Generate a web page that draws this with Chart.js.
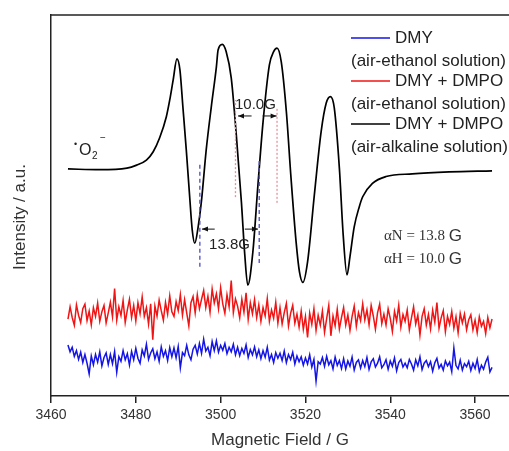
<!DOCTYPE html>
<html>
<head>
<meta charset="utf-8">
<script src="https://cdn.jsdelivr.net/npm/chart.js@4/dist/chart.umd.min.js"></script>
<style>
  html, body { margin: 0; padding: 0; background: #fff; }
  #wrap { width: 509px; height: 451px; position: relative; }
</style>
</head>
<body>
<div id="wrap"><canvas id="epr"></canvas></div>
<script>
// x ticks
const tickValues = [3460, 3480, 3500, 3520, 3540, 3560];

// black: DMY + DMPO (air-alkaline solution), read point by point
const blackField = [3464.0, 3471.5, 3477.9, 3480.2, 3482.5, 3484.1, 3485.6, 3487.2, 3488.0, 3488.8, 3489.7, 3490.4,
  3491.1, 3491.9, 3492.7, 3493.3, 3493.9, 3494.7, 3495.5, 3496.6, 3497.8, 3499.0, 3499.4, 3500.4, 3501.3, 3502.5,
  3503.7, 3504.9, 3505.7, 3506.4, 3507.6, 3508.8, 3510.0, 3511.5, 3512.5, 3513.3, 3514.3, 3515.5, 3516.6, 3517.8,
  3518.6, 3519.4, 3520.5, 3522.1, 3523.7, 3524.9, 3525.9, 3526.8, 3528.0, 3528.9, 3529.8, 3530.5, 3531.5, 3532.7,
  3533.5, 3535.8, 3539.0, 3545.2, 3553.9, 3564.0];
const blackIntensity = [59.6, 59.4, 59.8, 60.6, 61.9, 64.1, 67.7, 73.3, 77.7, 82.9, 88.5, 85.6,
  75.9, 64.6, 52.3, 43.6, 40.1, 44.4, 51.4, 64.6, 75.9, 86.4, 90.8, 92.3, 90.4, 83.5,
  68.5, 50.9, 37.0, 29.1, 37.8, 55.4, 71.9, 86.9, 90.4, 91.3, 87.7, 74.6, 57.2, 40.4,
  32.5, 29.8, 35.2, 52.8, 69.4, 76.9, 78.6, 75.6, 59.8, 42.3, 31.8, 36.6, 44.4, 49.7,
  52.3, 55.8, 57.6, 58.3, 58.8, 59.1];

// noise traces, sampled every 0.5 G from 3464 G
const noiseStart = 3464;
const noiseStep = 0.5;
const redIntensity = [
  20.2, 23.4, 20.6, 18.6, 23.9, 21.2, 19.3, 22.9, 24.1, 19.8,
  22.3, 18.7, 23.2, 20.9, 24.4, 19.6, 22.1, 23.8, 19.2, 21.8,
  24.6, 20.8, 28.2, 19.9, 23.4, 21.1, 25.1, 19.3, 22.6, 25.4,
  20.6, 23.8, 19.7, 24.5, 21.6, 26.0, 20.9, 23.2, 18.9, 24.2,
  14.8, 23.6, 21.0, 25.2, 22.4, 19.9, 24.6, 21.5, 26.3, 22.1,
  20.9, 24.8, 22.4, 26.6, 21.2, 25.3, 21.8, 18.4, 24.5, 26.1,
  21.8, 26.6, 22.9, 25.4, 27.7, 23.2, 26.2, 22.0, 28.1, 24.4,
  26.8, 22.9, 28.4, 24.2, 21.7, 26.6, 23.4, 30.3, 21.9, 25.5,
  23.6, 20.5, 25.4, 22.0, 27.1, 20.1, 24.5, 21.6, 25.3, 20.6,
  23.9, 19.6, 23.2, 21.0, 25.6, 19.6, 22.6, 20.4, 24.6, 19.1,
  23.2, 18.9, 21.9, 24.3, 18.4, 21.7, 23.8, 19.1, 21.5, 18.1,
  22.3, 17.5, 20.9, 15.4, 21.8, 18.8, 22.9, 17.2, 21.2, 18.6,
  22.3, 16.7, 20.3, 23.8, 15.8, 21.0, 18.4, 22.8, 17.6, 20.6,
  23.2, 18.6, 21.3, 17.2, 20.9, 23.6, 18.3, 21.9, 19.8, 24.2,
  20.0, 22.6, 18.7, 23.8, 21.0, 17.5, 21.8, 24.1, 19.0, 21.5,
  18.6, 22.9, 20.4, 16.9, 22.2, 19.7, 23.8, 18.1, 21.4, 19.6,
  22.6, 17.4, 20.5, 23.4, 18.9, 21.2, 16.0, 20.9, 22.9, 18.6,
  21.4, 17.6, 22.5, 19.4, 24.5, 17.8, 20.5, 22.4, 16.9, 20.9,
  18.8, 22.2, 17.8, 20.8, 16.6, 21.7, 19.2, 21.5, 17.4, 20.0,
  21.3, 17.4, 19.9, 16.6, 20.8, 18.3, 19.6, 16.4, 20.6, 17.9, 20.2];
const blueIntensity = [
  13.4, 11.6, 12.8, 10.4, 11.9, 9.6, 11.5, 8.8, 10.9, 8.6,
  5.8, 10.5, 8.2, 10.9, 8.9, 11.6, 7.9, 10.1, 11.3, 8.3,
  10.9, 8.5, 11.7, 6.2, 10.3, 9.1, 11.9, 9.5, 11.1, 8.1,
  11.7, 9.5, 12.5, 9.9, 8.6, 12.1, 10.5, 13.6, 9.6, 11.3,
  12.4, 9.8, 11.6, 9.1, 12.9, 10.4, 11.9, 9.3, 12.7, 10.3,
  12.6, 10.0, 13.0, 7.4, 11.4, 10.6, 13.3, 10.8, 9.5, 12.3,
  13.3, 11.0, 13.8, 11.2, 14.9, 11.8, 12.8, 10.6, 14.3, 11.9,
  14.5, 11.5, 13.3, 12.0, 13.8, 11.1, 12.8, 11.6, 13.6, 10.8,
  12.8, 10.6, 12.5, 11.2, 13.4, 10.1, 12.2, 10.8, 12.9, 10.3,
  12.1, 9.8, 11.9, 10.2, 12.8, 9.4, 10.9, 8.8, 11.4, 9.9,
  11.2, 9.3, 11.8, 8.8, 10.9, 9.6, 11.5, 8.4, 10.5, 9.0,
  10.3, 8.1, 10.0, 8.4, 10.8, 7.6, 9.6, 3.9, 9.0, 8.4,
  10.1, 7.8, 10.4, 8.2, 9.3, 7.1, 10.2, 8.0, 9.3, 7.2,
  9.8, 7.1, 9.2, 7.8, 10.2, 6.8, 8.8, 9.5, 7.3, 9.3,
  7.7, 10.1, 7.0, 9.0, 9.8, 7.6, 8.6, 10.3, 7.4, 8.2,
  9.5, 7.0, 9.2, 7.8, 10.0, 6.6, 8.8, 9.6, 7.6, 8.6,
  7.4, 9.6, 8.4, 6.8, 9.5, 7.9, 10.3, 6.9, 8.6, 9.3,
  7.7, 9.0, 6.5, 8.7, 9.9, 7.3, 8.3, 6.8, 9.2, 7.9,
  8.9, 6.4, 12.6, 8.0, 7.1, 9.4, 6.8, 8.5, 7.7, 9.1,
  6.7, 8.6, 7.2, 9.6, 6.4, 8.1, 7.0, 8.9, 10.2, 6.3, 7.5];

const seriesLabels = ['DMY', 'DMY + DMPO', 'DMY + DMPO'];
const seriesNotes = ['(air-ethanol solution)', '(air-ethanol solution)', '(air-alkaline solution)'];
const seriesColors = ['#1414e6', '#f01414', '#000000'];

const SANS = '"Liberation Sans", Arial, sans-serif';
const SERIF = '"Liberation Serif", "Times New Roman", serif';

function noisePoints(values) {
    return values.map((v, i) => ({ x: noiseStart + i * noiseStep, y: v }));
}

// guides for the splitting constants (data units)
const guides = [
    { x: 3495.1, y0: 33.9, y1: 61.4, color: '#4a4ac8', dash: [4, 3] },
    { x: 3509.1, y0: 34.9, y1: 62.5, color: '#4a4ac8', dash: [4, 3] },
    { x: 3503.5, y0: 52.2, y1: 77.7, color: '#e8909c', dash: [2, 2] },
    { x: 3513.3, y0: 50.7, y1: 75.9, color: '#e8909c', dash: [2, 2] }
];
const arrows = [
    { from: 3498.6, to: 3495.6, y: 43.8 },
    { from: 3505.7, to: 3508.8, y: 43.8 },
    { from: 3507.3, to: 3504.1, y: 73.5 },
    { from: 3509.9, to: 3513.2, y: 73.5 }
];
const gapLabels = [
    { text: '13.8G', x: 3502.1, y: 39.6 },
    { text: '10.0G', x: 3508.2, y: 76.4 }
];

const decorPlugin = {
    id: 'decor',
    afterDatasetsDraw(chart) {
        const ctx = chart.ctx;
        const xs = chart.scales.x, ys = chart.scales.y;
        const area = chart.chartArea;
        ctx.save();

        // top frame line
        ctx.strokeStyle = '#222';
        ctx.lineWidth = 1.5;
        ctx.beginPath();
        ctx.moveTo(area.left, area.top);
        ctx.lineTo(area.right, area.top);
        ctx.stroke();

        // dashed guides
        guides.forEach(g => {
            ctx.strokeStyle = g.color;
            ctx.lineWidth = 1.3;
            ctx.setLineDash(g.dash);
            ctx.beginPath();
            ctx.moveTo(xs.getPixelForValue(g.x), ys.getPixelForValue(g.y0));
            ctx.lineTo(xs.getPixelForValue(g.x), ys.getPixelForValue(g.y1));
            ctx.stroke();
        });
        ctx.setLineDash([]);

        // arrows
        ctx.strokeStyle = '#111';
        ctx.fillStyle = '#111';
        ctx.lineWidth = 1;
        arrows.forEach(a => {
            const x0 = xs.getPixelForValue(a.from), x1 = xs.getPixelForValue(a.to);
            const y = ys.getPixelForValue(a.y);
            const d = Math.sign(x1 - x0);
            ctx.beginPath();
            ctx.moveTo(x0, y);
            ctx.lineTo(x1, y);
            ctx.stroke();
            ctx.beginPath();
            ctx.moveTo(x1, y);
            ctx.lineTo(x1 - d * 6, y - 2.5);
            ctx.lineTo(x1 - d * 6, y + 2.5);
            ctx.closePath();
            ctx.fill();
        });

        ctx.font = '15px ' + SANS;
        ctx.fillStyle = '#222';
        ctx.textAlign = 'center';
        ctx.textBaseline = 'middle';
        gapLabels.forEach(l => {
            ctx.fillText(l.text, xs.getPixelForValue(l.x), ys.getPixelForValue(l.y));
        });

        // radical label
        ctx.textAlign = 'left';
        ctx.textBaseline = 'alphabetic';
        ctx.font = '9px ' + SANS;
        ctx.fillText('\u2022', 74, 147);
        ctx.font = '16px ' + SANS;
        ctx.fillText('O', 79, 155);
        ctx.font = '10px ' + SANS;
        ctx.fillText('2', 92, 159);
        ctx.fillText('\u2212', 100, 141);

        // coupling constants
        ctx.textBaseline = 'middle';
        [['\u03b1N = 13.8 ', 236], ['\u03b1H = 10.0 ', 259]].forEach(([t, y]) => {
            ctx.font = '15px ' + SERIF;
            ctx.fillStyle = '#333';
            ctx.fillText(t, 384, y);
            const w = ctx.measureText(t).width;
            ctx.font = '17px ' + SANS;
            ctx.fillText('G', 384 + w, y);
        });

        // legend
        ctx.font = '17px ' + SANS;
        ctx.fillStyle = '#222';
        seriesLabels.forEach((lab, i) => {
            const y = 38 + i * 43;
            ctx.strokeStyle = seriesColors[i];
            ctx.lineWidth = 1.5;
            ctx.beginPath();
            ctx.moveTo(351, y);
            ctx.lineTo(390, y);
            ctx.stroke();
            ctx.fillText(lab, 395, y);
            ctx.fillText(seriesNotes[i], 351, y + 23);
        });

        // y axis title
        ctx.translate(20, 217);
        ctx.rotate(-Math.PI / 2);
        ctx.textAlign = 'center';
        ctx.font = '17px ' + SANS;
        ctx.fillStyle = '#333';
        ctx.fillText('Intensity / a.u.', 0, 0);
        ctx.restore();
    }
};

new Chart(document.getElementById('epr'), {
    type: 'line',
    data: {
        datasets: [{
            label: seriesLabels[0],
            data: noisePoints(blueIntensity),
            borderColor: seriesColors[0],
            borderWidth: 1.5,
            pointRadius: 0,
            tension: 0
        }, {
            label: seriesLabels[1],
            data: noisePoints(redIntensity),
            borderColor: seriesColors[1],
            borderWidth: 1.5,
            pointRadius: 0,
            tension: 0
        }, {
            label: seriesLabels[2],
            data: blackField.map((f, i) => ({ x: f, y: blackIntensity[i] })),
            borderColor: seriesColors[2],
            borderWidth: 1.7,
            pointRadius: 0,
            cubicInterpolationMode: 'monotone'
        }]
    },
    options: {
        responsive: true,
        maintainAspectRatio: false,
        animation: false,
        layout: { padding: { top: 15, right: 0, bottom: 0, left: 0 } },
        plugins: { legend: { display: false }, tooltip: { enabled: false } },
        scales: {
            x: {
                type: 'linear',
                min: 3460,
                max: 3568,
                afterBuildTicks: s => { s.ticks = tickValues.map(v => ({ value: v })); },
                afterFit: s => { s.height = 55; },
                grid: { drawOnChartArea: false, drawTicks: true, tickLength: 7, color: '#222', lineWidth: 1.5 },
                border: { display: true, color: '#222', width: 1.5 },
                ticks: {
                    padding: 4, color: '#333', font: { family: SANS, size: 14 }, maxRotation: 0, autoSkip: false,
                    callback: v => String(v)
                },
                title: {
                    display: true,
                    text: 'Magnetic Field / G',
                    color: '#333',
                    font: { family: SANS, size: 17, lineHeight: 1.2 },
                    padding: { top: 0, bottom: 0 }
                }
            },
            y: {
                min: 0,
                max: 100,
                afterFit: s => { s.width = 51; },
                grid: { drawOnChartArea: false, drawTicks: false },
                border: { display: true, color: '#222', width: 1.5 },
                ticks: { display: false }
            }
        }
    },
    plugins: [decorPlugin]
});
</script>
</body>
</html>
